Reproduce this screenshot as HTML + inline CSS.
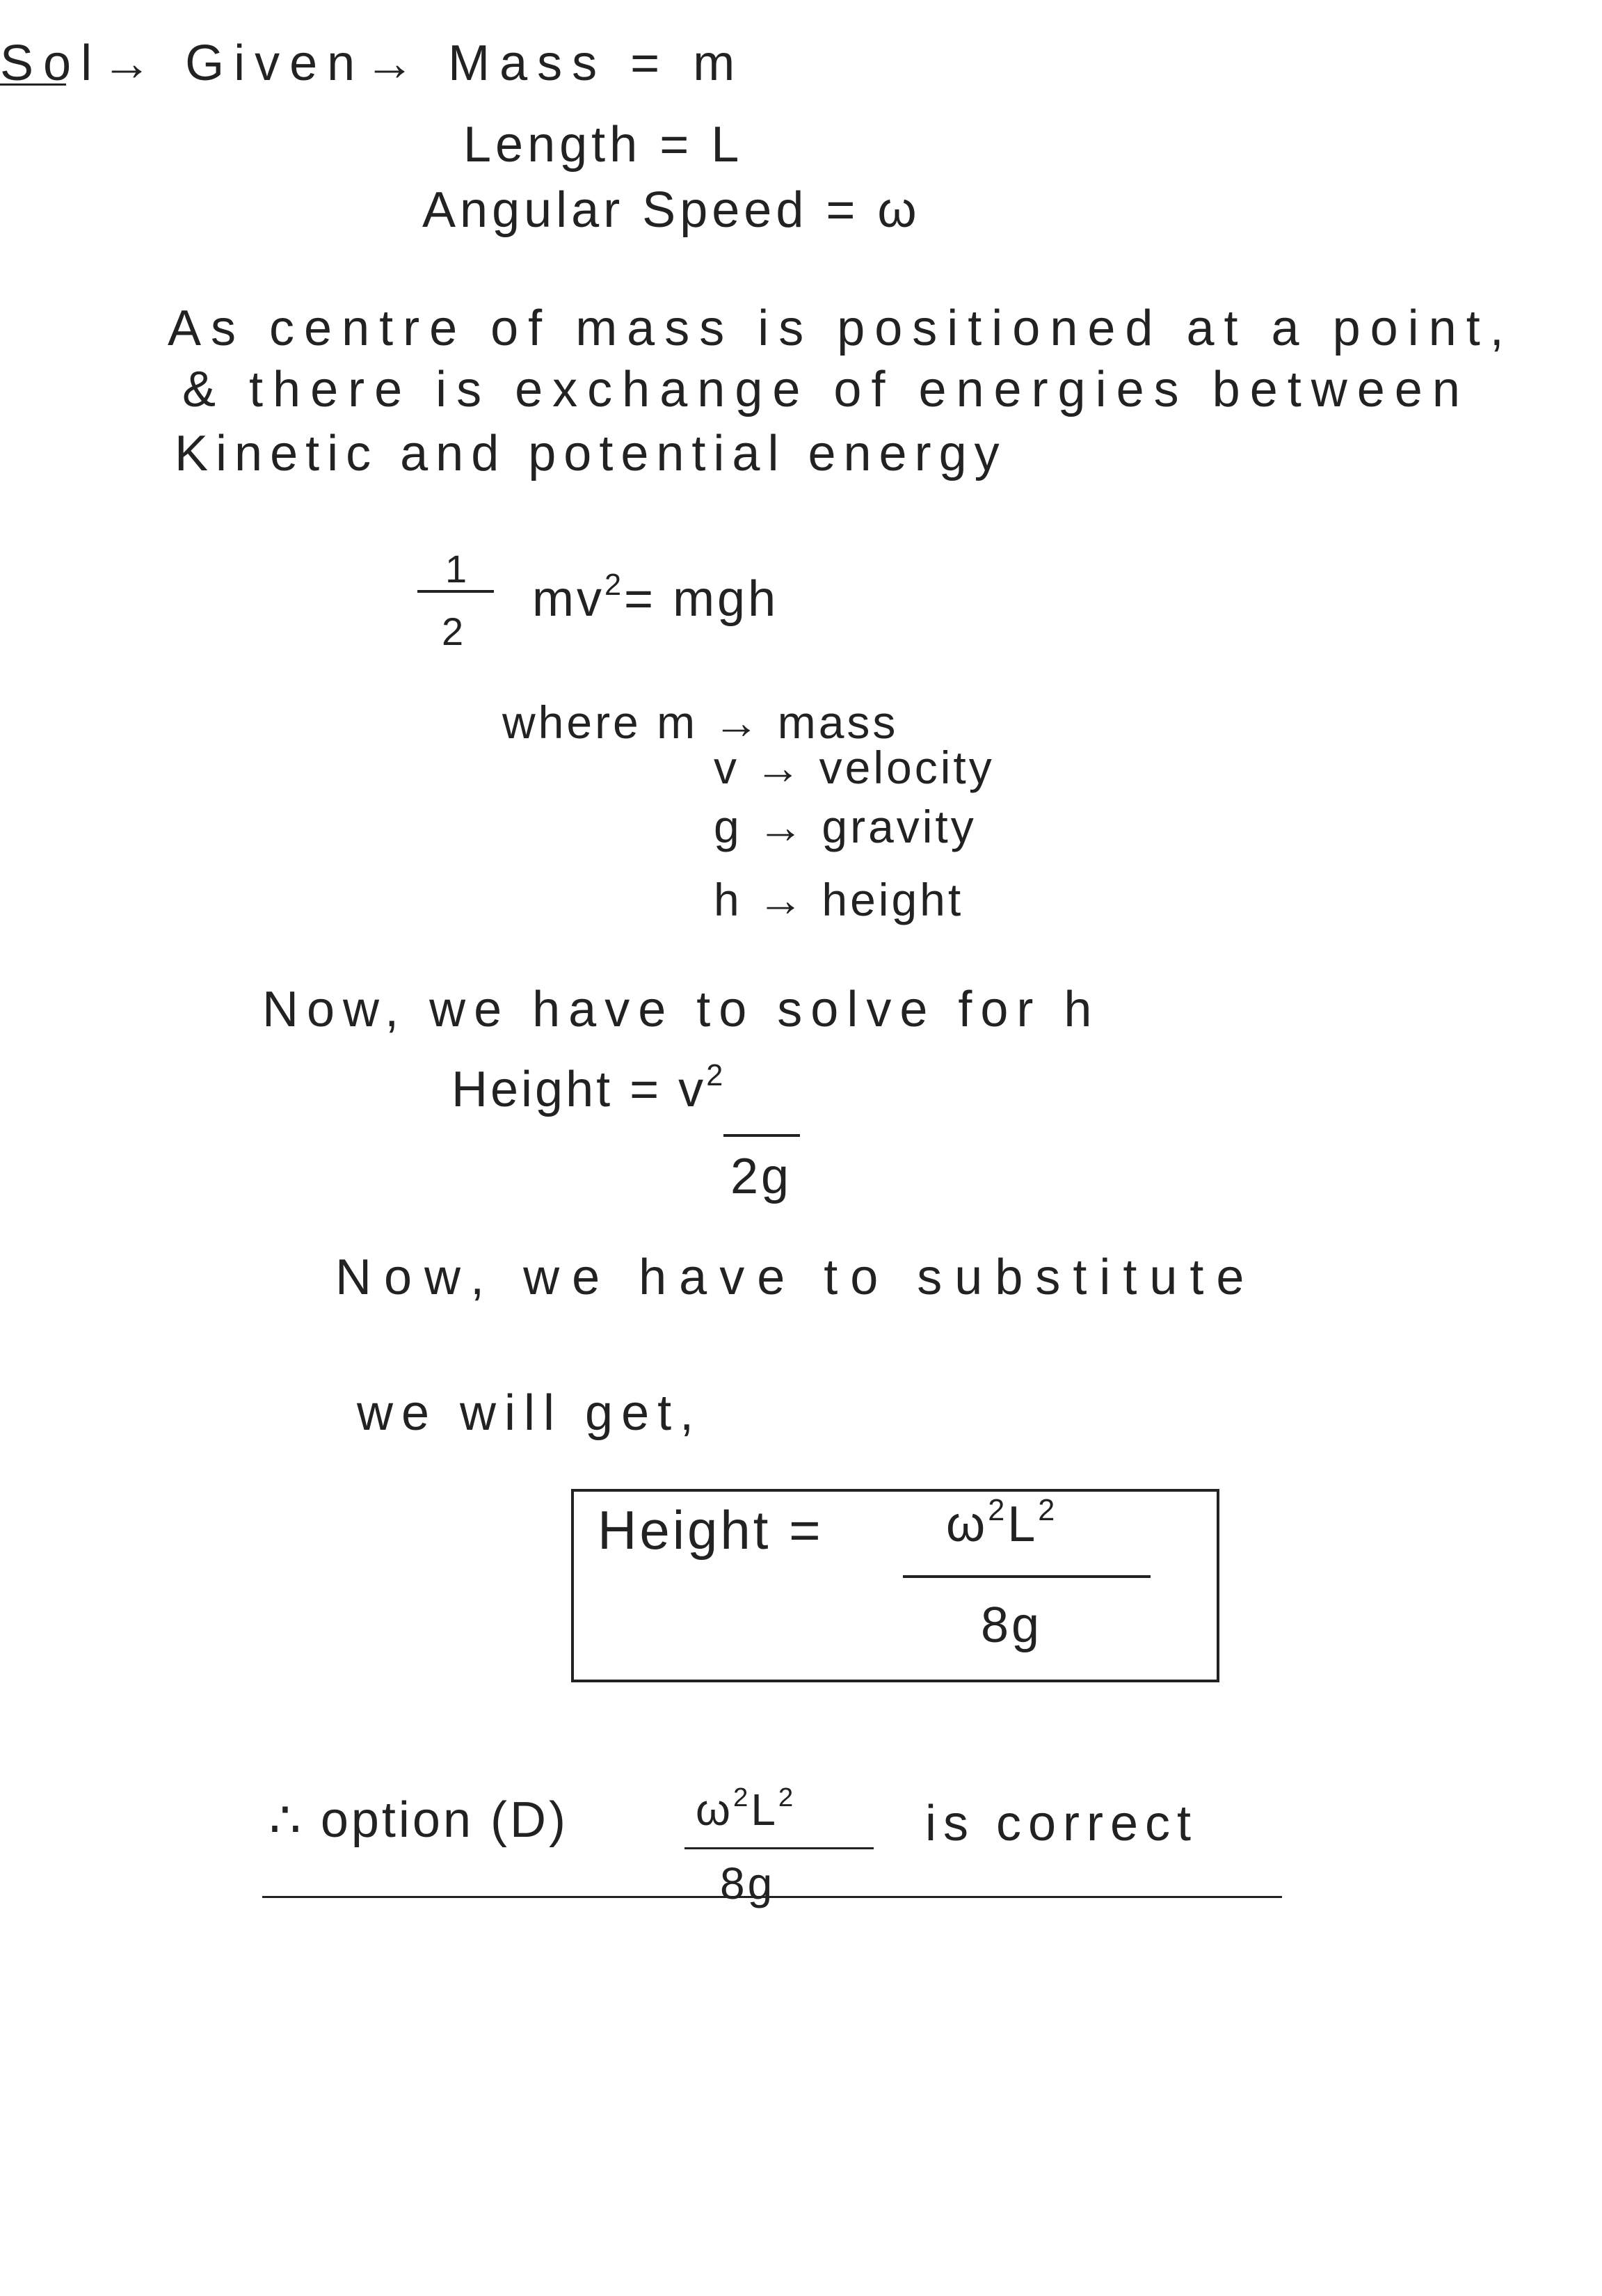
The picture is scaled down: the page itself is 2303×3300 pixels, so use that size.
<!DOCTYPE html>
<html><head><meta charset="utf-8">
<style>
html,body{margin:0;padding:0;background:#fff;}
body{width:2303px;height:3300px;position:relative;overflow:hidden;font-family:"Liberation Sans",sans-serif;color:#222;}
.t{position:absolute;white-space:nowrap;font-size:72px;line-height:1;letter-spacing:4px;}
.l{position:absolute;background:#222;height:4px;}
sup{font-size:0.6em;vertical-align:0.7em;}
</style></head><body>
<div class="t" style="left:0;top:55px;letter-spacing:14px;">Sol→ Given→ Mass = m</div>
<div class="l" style="left:0;top:120px;width:95px;height:3px"></div>
<div class="t" style="left:666px;top:172px;letter-spacing:6px;">Length = L</div>
<div class="t" style="left:607px;top:266px;letter-spacing:6px;">Angular Speed = ω</div>
<div class="t" style="left:241px;top:436px;letter-spacing:14px;">As centre of mass is positioned at a point,</div>
<div class="t" style="left:262px;top:524px;letter-spacing:14px;">&amp; there is exchange of energies between</div>
<div class="t" style="left:251px;top:616px;letter-spacing:11px;">Kinetic and potential energy</div>

<div class="t" style="left:640px;top:790px;font-size:56px;">1</div>
<div class="l" style="left:600px;top:848px;width:110px;"></div>
<div class="t" style="left:635px;top:880px;font-size:56px;">2</div>
<div class="t" style="left:765px;top:820px;">mv<sup>2</sup>= mgh</div>

<div class="t" style="left:722px;top:1005px;font-size:66px;">where m → mass</div>
<div class="t" style="left:1026px;top:1070px;font-size:66px;">v → velocity</div>
<div class="t" style="left:1026px;top:1155px;font-size:66px;">g → gravity</div>
<div class="t" style="left:1026px;top:1260px;font-size:66px;">h → height</div>

<div class="t" style="left:377px;top:1415px;letter-spacing:12px;">Now, we have to solve for h</div>
<div class="t" style="left:649px;top:1525px;">Height = v<sup>2</sup></div>
<div class="l" style="left:1040px;top:1630px;width:110px;"></div>
<div class="t" style="left:1050px;top:1655px;">2g</div>

<div class="t" style="left:482px;top:1800px;letter-spacing:18px;">Now, we have to substitute</div>
<div class="t" style="left:513px;top:1995px;letter-spacing:12px;">we will get,</div>

<div style="position:absolute;left:821px;top:2140px;width:924px;height:270px;border:4px solid #222;"></div>
<div class="t" style="left:859px;top:2160px;font-size:78px;">Height =</div>
<div class="t" style="left:1360px;top:2150px;">ω<sup>2</sup>L<sup>2</sup></div>
<div class="l" style="left:1298px;top:2264px;width:356px;"></div>
<div class="t" style="left:1410px;top:2300px;">8g</div>

<div class="t" style="left:387px;top:2580px;">∴ option (D)</div>
<div class="t" style="left:1000px;top:2565px;font-size:64px;">ω<sup>2</sup>L<sup>2</sup></div>
<div class="l" style="left:984px;top:2655px;width:272px;height:3px"></div>
<div class="t" style="left:1035px;top:2675px;font-size:64px;">8g</div>
<div class="t" style="left:1330px;top:2585px;letter-spacing:10px;">is correct</div>
<div class="l" style="left:377px;top:2725px;width:1466px;height:3px"></div>
</body></html>
